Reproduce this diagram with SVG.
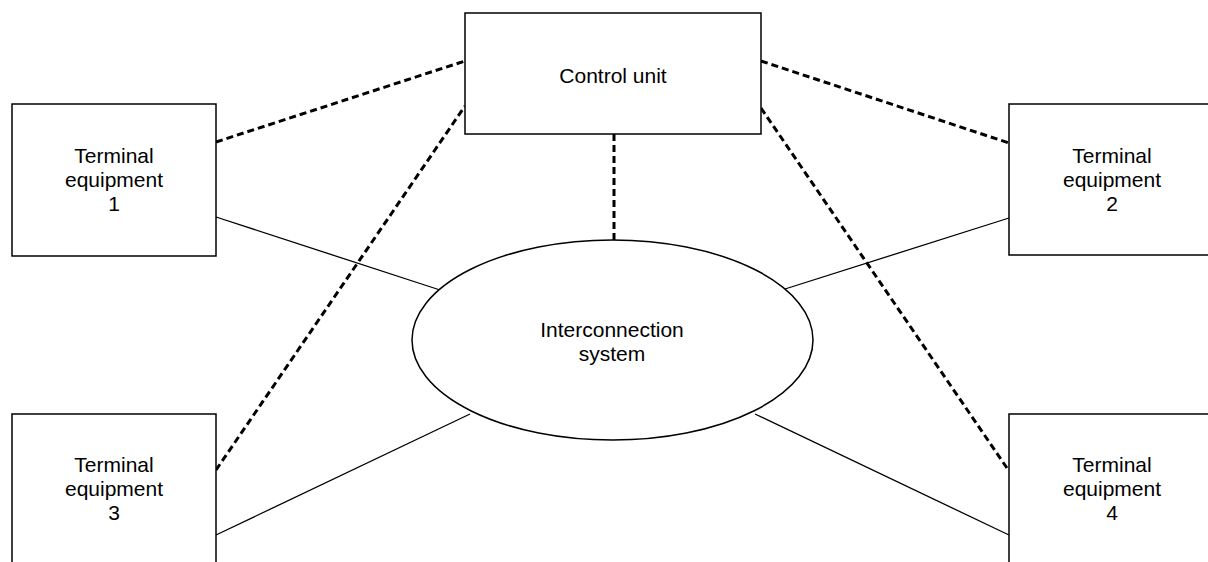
<svg xmlns="http://www.w3.org/2000/svg" width="1208" height="562" viewBox="0 0 1208 562">
<style>
.box{fill:#fff;stroke:#000;stroke-width:1.5}
.dash{stroke:#000;stroke-width:3;stroke-dasharray:7 4;fill:none}
.solid{stroke:#000;stroke-width:1.3;fill:none}
text{font-family:"Liberation Sans",Arial,sans-serif;font-size:21px;fill:#000;text-anchor:middle}
</style>
<rect width="1208" height="562" fill="#fff"/>
<g id="connectors">
<line class="dash" x1="216" y1="142" x2="465" y2="61"/>
<line class="dash" x1="216" y1="470" x2="465" y2="106"/>
<line class="dash" x1="761" y1="61" x2="1009" y2="143"/>
<line class="dash" x1="761" y1="108" x2="1009" y2="471"/>
<line class="dash" x1="614" y1="134" x2="614" y2="240"/>
<line class="solid" x1="216" y1="217" x2="440" y2="290"/>
<line class="solid" x1="1009" y1="218" x2="785" y2="289"/>
<line class="solid" x1="216" y1="535" x2="470" y2="414"/>
<line class="solid" x1="1009" y1="535" x2="755" y2="414"/>
</g>
<g id="control-unit">
<rect class="box" x="465" y="13" width="296" height="121"/>
<text x="613" y="83">Control unit</text>
</g>
<g id="interconnection-system">
<ellipse class="box" cx="612.5" cy="340" rx="200.5" ry="100"/>
<text x="612" y="337">Interconnection</text>
<text x="612" y="361">system</text>
</g>
<g id="terminal-1">
<rect class="box" x="12" y="104" width="204" height="152"/>
<text x="114" y="163">Terminal</text>
<text x="114" y="187">equipment</text>
<text x="114" y="211">1</text>
</g>
<g id="terminal-2">
<rect class="box" x="1009" y="104" width="206" height="151"/>
<text x="1112" y="163">Terminal</text>
<text x="1112" y="187">equipment</text>
<text x="1112" y="211">2</text>
</g>
<g id="terminal-3">
<rect class="box" x="12" y="414" width="204" height="160"/>
<text x="114" y="472">Terminal</text>
<text x="114" y="496">equipment</text>
<text x="114" y="520">3</text>
</g>
<g id="terminal-4">
<rect class="box" x="1009" y="414" width="206" height="160"/>
<text x="1112" y="472">Terminal</text>
<text x="1112" y="496">equipment</text>
<text x="1112" y="520">4</text>
</g>
</svg>
